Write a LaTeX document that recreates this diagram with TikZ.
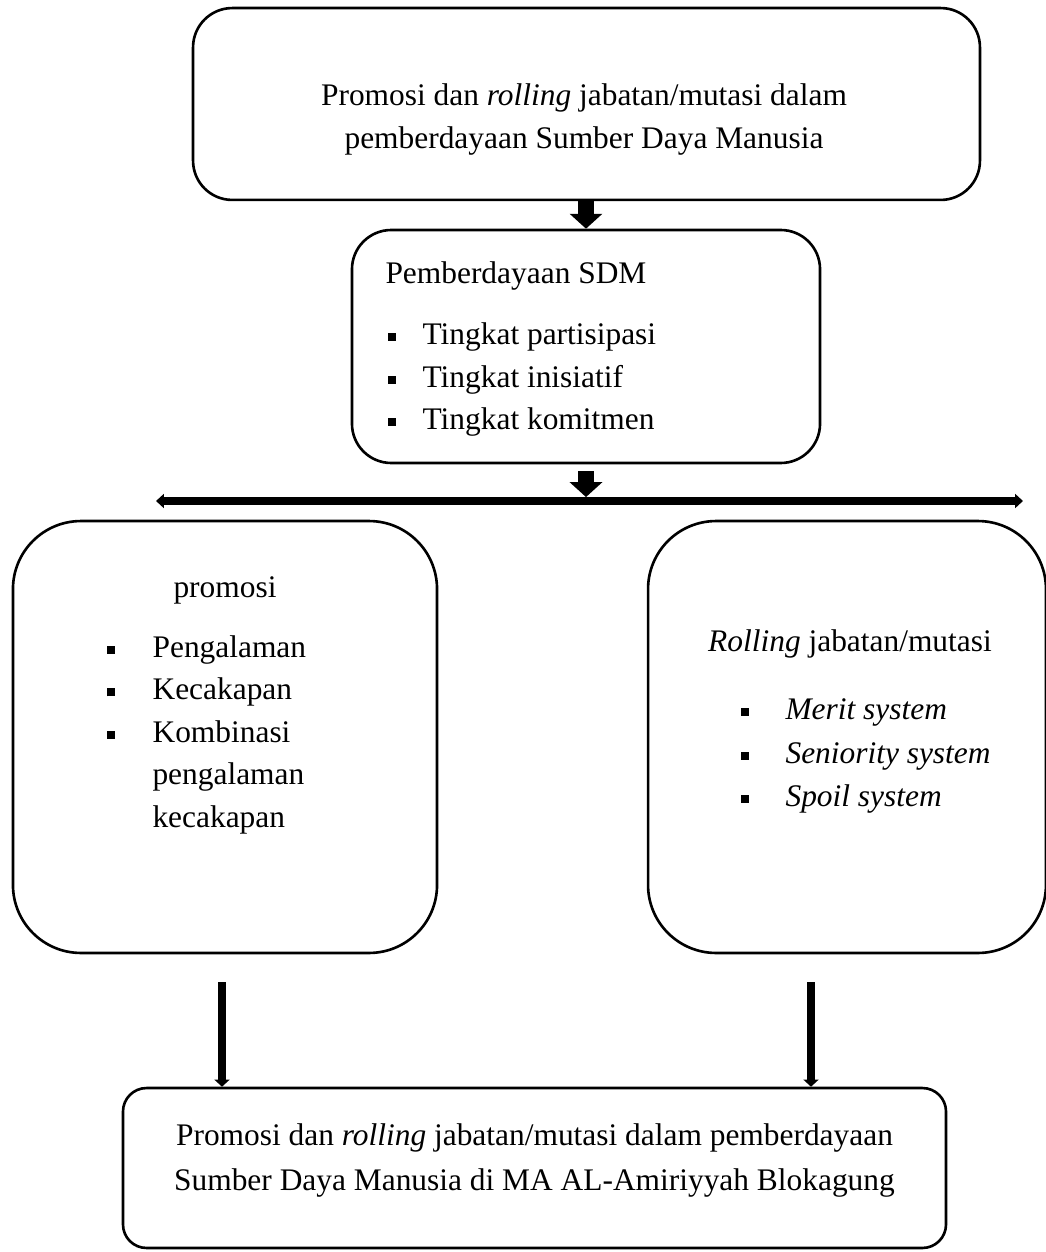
\documentclass[tikz,border=0pt]{standalone}
\usepackage{fontspec}
\setmainfont{Liberation Serif}
\usetikzlibrary{arrows.meta, positioning}
\newcommand{\sqbul}{\rule[1.2pt]{3.1pt}{3.1pt}}

\begin{document}
\begin{tikzpicture}[
      x=0.382pt, y=-0.382pt,
      font=\fontsize{12}{16}\selectfont,
      frame/.style={draw, line width=1pt, inner sep=0pt},
      txt/.style={anchor=base, inner sep=0pt},
      item/.style={anchor=base west, inner sep=0pt},
      blockarr/.style={-{Triangle[width=12.2pt, length=5.7pt]}, line width=6.1pt},
      droparr/.style={-{Triangle[width=5.7pt, length=2.7pt]}, line width=3.4pt},
      spread/.style={{Triangle[width=5.3pt, length=3pt]}-{Triangle[width=5.3pt, length=3pt]}, line width=2.7pt}
    ]
      \useasboundingbox (0,0) rectangle (1046,1252);
      % boxes
      \node[frame, rounded corners=15pt, minimum width=300.6pt, minimum height=73.3pt] (top) at (586.5,104) {};
      \node[frame, rounded corners=15pt, minimum width=178.8pt, minimum height=89pt] (sdm) at (586,346.5) {};
      \node[frame, rounded corners=26pt, minimum width=162pt, minimum height=165pt] (promosi) at (225,737) {};
      \node[frame, rounded corners=26pt, minimum width=152pt, minimum height=165pt] (rolling) at (847,737) {};
      \node[frame, rounded corners=9pt, minimum width=314.4pt, minimum height=61.1pt] (hasil) at (534.5,1168) {};
      % texts
      \node[txt] (top1) at (584,106) {Promosi dan \textit{rolling} jabatan/mutasi dalam};
      \node[txt] (top2) at (584,149) {pemberdayaan Sumber Daya Manusia};
      \node[item] (sdmT) at (385,283) {Pemberdayaan SDM};
      \node[item] (sdm1) at (387,344) {\makebox[13.4pt][l]{\sqbul}Tingkat partisipasi};
      \node[item] (sdm2) at (387,387) {\makebox[13.4pt][l]{\sqbul}Tingkat inisiatif};
      \node[item] (sdm3) at (387,429) {\makebox[13.4pt][l]{\sqbul}Tingkat komitmen};
      \node[txt] (promT) at (225,597) {promosi};
      \node[item] (prom1) at (106,657) {\makebox[17.6pt][l]{\sqbul}Pengalaman};
      \node[item] (prom2) at (106,699.5) {\makebox[17.6pt][l]{\sqbul}Kecakapan};
      \node[item] (prom3) at (106,742) {\makebox[17.6pt][l]{\sqbul}Kombinasi};
      \node[item] (prom4) at (152,784.5) {pengalaman};
      \node[item] (prom5) at (152,827) {kecakapan};
      \node[txt] (rollT) at (850,651) {\textit{Rolling} jabatan/mutasi};
      \node[item] (roll1) at (740,719) {\makebox[17.2pt][l]{\sqbul}\textit{Merit system}};
      \node[item] (roll2) at (740,763) {\makebox[17.2pt][l]{\sqbul}\textit{Seniority system}};
      \node[item] (roll3) at (740,806) {\makebox[17.2pt][l]{\sqbul}\textit{Spoil system}};
      \node[txt] (has1) at (534.5,1145) {Promosi dan \textit{rolling} jabatan/mutasi dalam pemberdayaan};
      \node[txt] (has2) at (534.5,1190) {Sumber Daya Manusia di MA AL-Amiriyyah Blokagung};
      % arrows
      \coordinate (spreadL) at (156,501);
      \coordinate (spreadR) at (1023,501);
      \coordinate (fromL) at (222,982);
      \coordinate (fromR) at (811,982);
      \draw[blockarr] (top.south -| sdm.north) -- (sdm.north);
      \draw[blockarr] ([yshift=-2.7pt]sdm.south) -- ([yshift=1.5pt]sdm.south |- spreadL);
      \draw[spread] (spreadL) -- (spreadR);
      \draw[droparr] (fromL) -- (fromL |- hasil.north);
      \draw[droparr] (fromR) -- (fromR |- hasil.north);
    \end{tikzpicture}
\end{document}
